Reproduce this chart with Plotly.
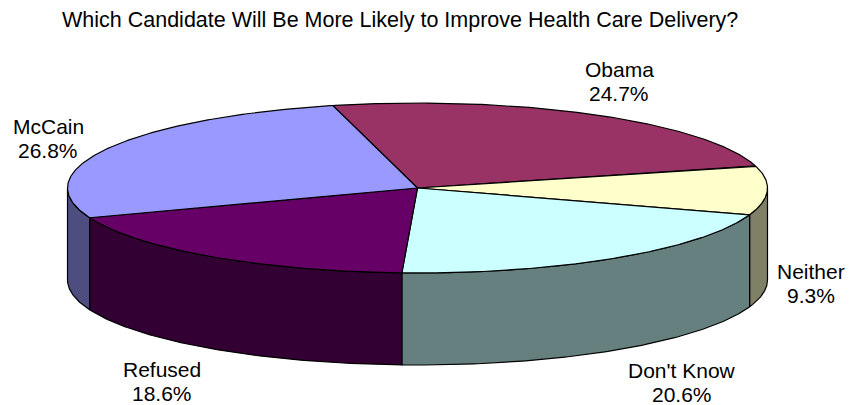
import numpy as np
import plotly.graph_objects as go

# ---- data ----
categories = ["Obama", "Neither", "Don't Know", "Refused", "McCain"]
values = [24.7, 9.3, 20.6, 18.6, 26.8]
pct_labels = ["24.7%", "9.3%", "20.6%", "18.6%", "26.8%"]

# ---- style ----
top_colors = ["#993366", "#FFFFCC", "#CCFFFF", "#660066", "#9999FF"]
side_colors = ["#4D1A33", "#808066", "#668080", "#330033", "#4D4D80"]
title_text = "Which Candidate Will Be More Likely to Improve Health Care Delivery?"

# geometry (screen-pixel coordinate system; page body has an 8px margin)
W, H = 855, 405
OFF = 8
CX, CY, RX, RY, DEPTH = 417.5, 188.0, 350.0, 85.0, 92.0
START = 104.0  # degrees, first slice begins here, clockwise

# label positions (x, name line y, percent line y)
label_pos = {
    "Obama": (619, 69, 93),
    "Neither": (811, 271, 295),
    "Don't Know": (682, 370, 394),
    "Refused": (162, 369, 393),
    "McCain": (48, 126, 150),
}
FONT = "Liberation Sans, Arial, sans-serif"
FS = 21


def ell(t_deg, dy=0.0):
    t = np.radians(t_deg)
    return CX + RX * np.cos(t), CY - RY * np.sin(t) + dy


total = float(sum(values))
bounds = []
a = START
for v in values:
    b = a - v / total * 360.0
    bounds.append((b, a))  # (lo, hi)
    a = b

fig = go.Figure()

# sides (front half: angles in [-180, 0])
for (lo, hi), col in zip(bounds, side_colors):
    s_lo, s_hi = max(lo, -180.0), min(hi, 0.0)
    if s_hi <= s_lo:
        continue
    ts = np.linspace(s_lo, s_hi, 120)
    xt, yt = ell(ts)
    xb, yb = ell(ts[::-1], DEPTH)
    xs = np.concatenate([xt, xb, xt[:1]])
    ys = np.concatenate([yt, yb, yt[:1]])
    fig.add_trace(go.Scatter(x=xs, y=ys, mode="lines", fill="toself",
                             fillcolor=col, line=dict(color="black", width=1.2),
                             hoverinfo="skip", showlegend=False))

# tops
for (lo, hi), col in zip(bounds, top_colors):
    ts = np.linspace(hi, lo, 200)
    xa, ya = ell(ts)
    xs = np.concatenate([[CX], xa, [CX]])
    ys = np.concatenate([[CY], ya, [CY]])
    fig.add_trace(go.Scatter(x=xs, y=ys, mode="lines", fill="toself",
                             fillcolor=col, line=dict(color="black", width=1.2),
                             hoverinfo="skip", showlegend=False))

annotations = [dict(text=title_text, x=400, y=20, xref="x", yref="y",
                    showarrow=False, font=dict(family=FONT, size=21.5, color="black"))]
for name, pct in zip(categories, pct_labels):
    x, y1, y2 = label_pos[name]
    annotations.append(dict(text=name, x=x, y=y1, xref="x", yref="y", showarrow=False,
                            font=dict(family=FONT, size=FS, color="black")))
    annotations.append(dict(text=pct, x=x, y=y2, xref="x", yref="y", showarrow=False,
                            font=dict(family=FONT, size=FS, color="black")))

fig.update_layout(
    width=W - OFF, height=H - OFF,
    margin=dict(l=0, r=0, t=0, b=0),
    paper_bgcolor="white", plot_bgcolor="white",
    xaxis=dict(range=[OFF, W], visible=False, fixedrange=True),
    yaxis=dict(range=[H, OFF], visible=False, fixedrange=True),
    annotations=annotations,
)

fig.write_html("out.html")
